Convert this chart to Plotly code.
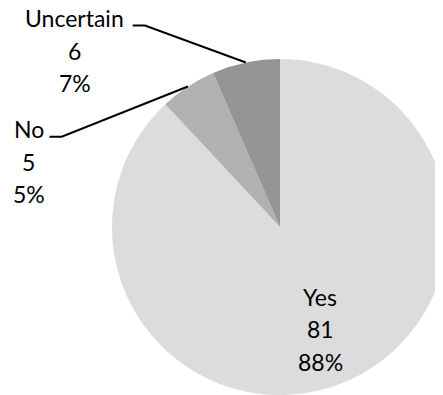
import math
import plotly.graph_objects as go

# ---- data ----
labels = ["Yes", "No", "Uncertain"]
values = [81, 5, 6]
colors = ["#dcdcdc", "#b1b1b1", "#959595"]

# the page body has an 8px margin; work in reference pixels and shift
OFF = 8
W, H = 445, 395  # figure size (overflow beyond window is clipped)
FONT = "Lato"
FS = 23
LINE = 32.7  # line spacing in px

total = sum(values)
pcts = [f"{round(v / total * 100)}%" for v in values]

# pie geometry in reference pixels
PCX, PCY, PR = 280, 227, 168
dom_x = [(PCX - PR - OFF) / W, (PCX + PR - OFF) / W]
dom_y = [1 - (PCY + PR - OFF) / H, 1 - (PCY - PR - OFF) / H]
cx = (dom_x[0] + dom_x[1]) / 2 * W + OFF
cy = (1 - (dom_y[0] + dom_y[1]) / 2) * H + OFF
R = min((dom_x[1] - dom_x[0]) * W, (dom_y[1] - dom_y[0]) * H) / 2

# mid angles (clockwise from 12 o'clock)
mids = []
acc = 0
for v in values:
    mids.append((acc + v / 2) / total * 2 * math.pi)
    acc += v


def px(x, y):
    return (x - OFF) / W, 1 - (y - OFF) / H


fig = go.Figure(go.Pie(
    labels=labels, values=values, sort=False, direction="clockwise", rotation=0,
    marker=dict(colors=colors, line=dict(width=0)),
    textinfo="none", hoverinfo="label+value+percent",
    domain=dict(x=dom_x, y=dom_y), showlegend=False,
))

annotations = []
shapes = []


def block(i, xc, ymid):
    lines = [labels[i], str(values[i]), pcts[i]]
    for j, t in enumerate(lines):
        x, y = px(xc, ymid + (j - 1) * LINE)
        annotations.append(dict(x=x, y=y, xref="paper", yref="paper", text=t,
                                showarrow=False, xanchor="center", yanchor="middle",
                                font=dict(family=FONT, size=FS, color="#000000")))


# Yes label inside slice, along mid-angle
k = 0.655
a = mids[0]
block(0, cx + math.sin(a) * R * k, cy - math.cos(a) * R * k)

# outside labels with leader lines
out = {1: dict(xc=28.7, ymid=161.5, h0=49.5, h1=61.7, hy=136.7),
       2: dict(xc=74.7, ymid=50.7, h0=132.7, h1=145.0, hy=25.5)}
for i, o in out.items():
    block(i, o["xc"], o["ymid"])
    a = mids[i]
    ex, ey = cx + math.sin(a) * R, cy - math.cos(a) * R
    p0 = px(o["h0"], o["hy"]); p1 = px(o["h1"], o["hy"]); p2 = px(ex, ey)
    shapes.append(dict(type="path", xref="paper", yref="paper",
                       path=f"M {p0[0]},{p0[1]} L {p1[0]},{p1[1]} L {p2[0]},{p2[1]}",
                       line=dict(color="#000000", width=2)))

fig.update_layout(
    width=W, height=H, margin=dict(l=0, r=0, t=0, b=0),
    paper_bgcolor="white", plot_bgcolor="white",
    annotations=annotations, shapes=shapes,
)

fig.write_html("out.html")
